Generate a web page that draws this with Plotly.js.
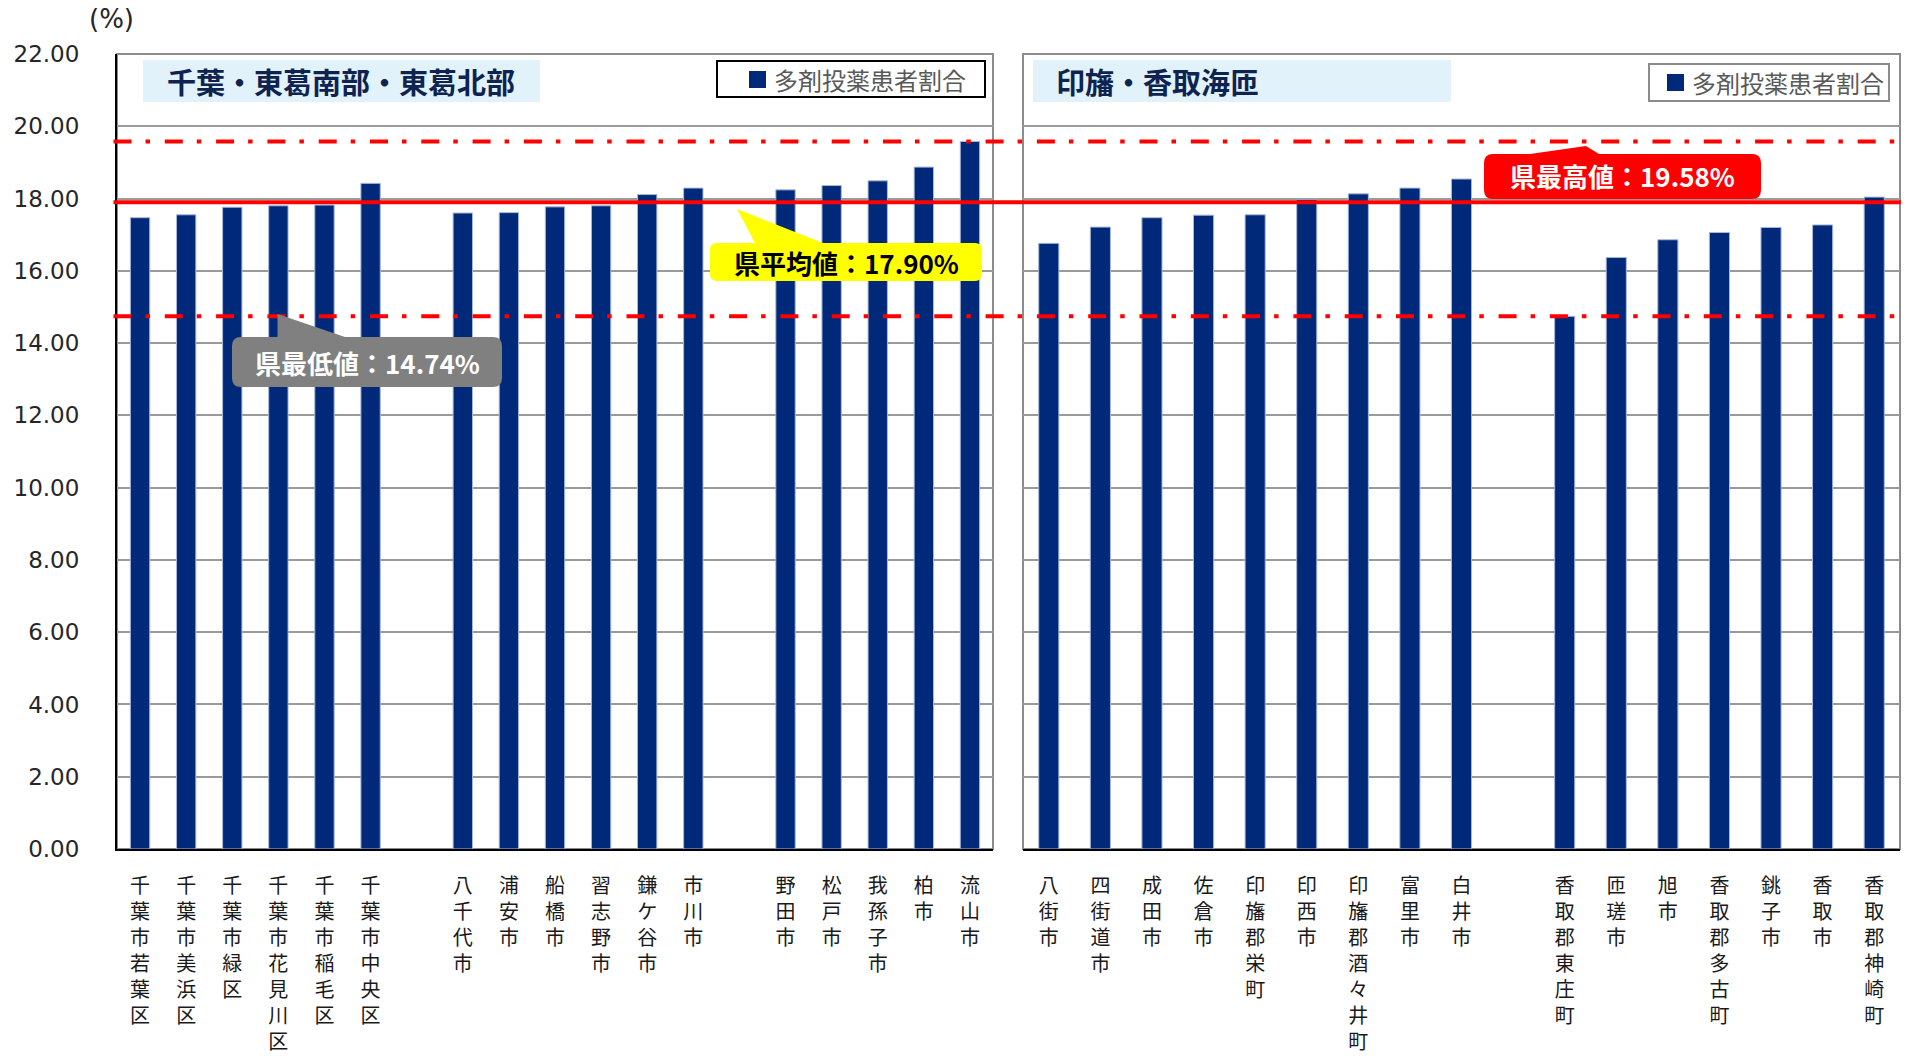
<!DOCTYPE html>
<html>
<head>
<meta charset="utf-8">
<script src="https://cdn.plot.ly/plotly-3.0.1.min.js"></script>
<style>html,body{margin:0;padding:0;background:#fff;}#chart{width:1908px;height:1056px;}</style>
</head>
<body>
<div id="chart"></div>
<script>
// ---------- data ----------
const chibaWards   = ['千葉市若葉区','千葉市美浜区','千葉市緑区','千葉市花見川区','千葉市稲毛区','千葉市中央区'];
const chibaValues  = [17.47, 17.55, 17.76, 17.80, 17.82, 18.42];
const katsuSouth   = ['八千代市','浦安市','船橋市','習志野市','鎌ケ谷市','市川市'];
const katsuSouthV  = [17.60, 17.61, 17.77, 17.80, 18.11, 18.29];
const katsuNorth   = ['野田市','松戸市','我孫子市','柏市','流山市'];
const katsuNorthV  = [18.24, 18.36, 18.49, 18.87, 19.58];
const inba         = ['八街市','四街道市','成田市','佐倉市','印旛郡栄町','印西市','印旛郡酒々井町','富里市','白井市'];
const inbaV        = [16.76, 17.21, 17.47, 17.54, 17.55, 17.98, 18.13, 18.29, 18.54];
const katoriKaisou = ['香取郡東庄町','匝瑳市','旭市','香取郡多古町','銚子市','香取市','香取郡神崎町'];
const katoriKaisouV= [14.74, 16.37, 16.86, 17.06, 17.20, 17.27, 18.04];

const prefAverage = 17.90;
const prefMax = 19.58;
const prefMin = 14.74;

const seriesName = '多剤投薬患者割合';
const panelTitle1 = '千葉・東葛南部・東葛北部';
const panelTitle2 = '印旛・香取海匝';
const avgLabel = '県平均値：17.90%';
const maxLabel = '県最高値：19.58%';
const minLabel = '県最低値：14.74%';
const yUnit = '(%)';
const yTicks = [0, 2, 4, 6, 8, 10, 12, 14, 16, 18, 20, 22];

// ---------- helpers ----------
const W = 1908, H = 1056;
const M = {l: 117, r: 8, t: 54, b: 207};
const PW = W - M.l - M.r, PH = H - M.t - M.b;
const px = x => (x - M.l) / PW;
const py = y => (H - M.b - y) / PH;

const vertical = s => s.split('').join('<br>');
function joinGroups(groups) {
  const x = [], y = [];
  groups.forEach((g, i) => {
    if (i > 0) { x.push(' '.repeat(i)); y.push(null); }
    g[0].forEach((c, j) => { x.push(c); y.push(g[1][j]); });
  });
  return {x, y};
}
const p1 = joinGroups([[chibaWards, chibaValues], [katsuSouth, katsuSouthV], [katsuNorth, katsuNorthV]]);
const p2 = joinGroups([[inba, inbaV], [katoriKaisou, katoriKaisouV]]);
const real1 = p1.x.filter(c => c.trim() !== '');
const real2 = p2.x.filter(c => c.trim() !== '');

const BAR = '#00297a';
const CJK = '"Noto Sans CJK JP", "Noto Sans", sans-serif';
const NUM = '"DejaVu Sans", sans-serif';

const traces = [
  {type: 'bar', x: p1.x, y: p1.y, xaxis: 'x', yaxis: 'y', name: seriesName, width: 0.42,
   marker: {color: BAR, line: {color: '#a9b8d8', width: 1}}, showlegend: false, hoverinfo: 'x+y'},
  {type: 'bar', x: p2.x, y: p2.y, xaxis: 'x2', yaxis: 'y', name: seriesName, width: 0.39,
   marker: {color: BAR, line: {color: '#a9b8d8', width: 1}}, showlegend: false, hoverinfo: 'x+y'}
];

function callout(x0, y0, x1, y1, r, b1, tip, b2) {
  const P = (x, y) => px(x).toFixed(5) + ',' + py(y).toFixed(5);
  return 'M' + P(x0 + r, y0) + ' L' + P(b1, y0) + ' L' + P(tip[0], tip[1]) + ' L' + P(b2, y0) +
    ' L' + P(x1 - r, y0) + ' Q' + P(x1, y0) + ' ' + P(x1, y0 + r) +
    ' L' + P(x1, y1 - r) + ' Q' + P(x1, y1) + ' ' + P(x1 - r, y1) +
    ' L' + P(x0 + r, y1) + ' Q' + P(x0, y1) + ' ' + P(x0, y1 - r) +
    ' L' + P(x0, y0 + r) + ' Q' + P(x0, y0) + ' ' + P(x0 + r, y0) + ' Z';
}
const prect = (x0, y0, x1, y1, fill, line) => ({type: 'rect', xref: 'paper', yref: 'paper',
  x0: px(x0), x1: px(x1), y0: py(y1), y1: py(y0), fillcolor: fill, line: line || {width: 0}});

const dashDot = '18px,14px,4.5px,14.8px';
const lineX0 = px(113.5), lineX1 = px(1901);

const shapes = [
  // panel borders
  {type: 'rect', xref: 'x domain', yref: 'y domain', x0: 0, x1: 1, y0: 0, y1: 1, line: {color: '#8c8c8c', width: 2}, layer: 'below'},
  {type: 'rect', xref: 'x2 domain', yref: 'y domain', x0: 0, x1: 1, y0: 0, y1: 1, line: {color: '#8c8c8c', width: 2}, layer: 'below'},
  // panel title boxes
  prect(143, 60, 540, 102, '#e1f2fa'),
  prect(1033, 60, 1451, 102, '#e1f2fa'),
  // legend boxes and swatches
  prect(717, 61, 985, 97, '#ffffff', {color: '#000000', width: 2}),
  prect(749, 71, 766, 88, BAR),
  prect(1649, 64, 1889, 101, '#ffffff', {color: '#8c8c8c', width: 2}),
  prect(1667, 74, 1684, 91, BAR),
  // reference lines
  {type: 'line', xref: 'paper', yref: 'y', x0: lineX0, x1: lineX1, y0: prefMax, y1: prefMax, line: {color: '#ff0000', width: 4, dash: dashDot}},
  {type: 'line', xref: 'paper', yref: 'y', x0: lineX0, x1: lineX1, y0: prefMin, y1: prefMin, line: {color: '#ff0000', width: 4, dash: dashDot}},
  {type: 'line', xref: 'paper', yref: 'y', x0: lineX0, x1: lineX1, y0: prefAverage, y1: prefAverage, line: {color: '#ff0000', width: 4}},
  // callouts
  {type: 'path', xref: 'paper', yref: 'paper', path: callout(232, 337, 502, 387, 9, 277.5, [277.5, 314], 345), fillcolor: '#808080', line: {width: 0}},
  {type: 'path', xref: 'paper', yref: 'paper', path: callout(710, 243, 982, 281, 7, 755, [737, 209], 823), fillcolor: '#ffff00', line: {width: 0}},
  {type: 'path', xref: 'paper', yref: 'paper', path: callout(1484, 154, 1761, 199, 9, 1530, [1586, 146], 1599), fillcolor: '#ff0000', line: {width: 0}}
];

const ann = (x, y, text, size, color, family, xanchor) => ({xref: 'paper', yref: 'paper', x: px(x), y: py(y), text: text,
  showarrow: false, xanchor: xanchor || 'center', yanchor: 'middle', font: {family: family || CJK, size: size, color: color}});

const annotations = [
  ann(111, 19, yUnit, 26, '#262626', NUM),
  ann(165, 81, '<b>' + panelTitle1 + '</b>', 29, '#0f2350', CJK, 'left'),
  ann(1054, 81, '<b>' + panelTitle2 + '</b>', 29, '#0f2350', CJK, 'left'),
  ann(772, 79, seriesName, 24, '#595959', CJK, 'left'),
  ann(1690, 82.5, seriesName, 24, '#595959', CJK, 'left'),
  ann(367, 362, '<b>' + minLabel + '</b>', 26, '#ffffff'),
  ann(846, 262, '<b>' + avgLabel + '</b>', 26, '#000000'),
  ann(1622, 176, '<b>' + maxLabel + '</b>', 26, '#ffffff')
];

const xCommon = {
  type: 'category', showgrid: false, zeroline: false, showline: true, linecolor: '#000', linewidth: 2,
  ticks: '', tickangle: 0, tickmode: 'array', ticklabelstandoff: 18,
  tickfont: {family: CJK, size: 20, color: '#1a1a1a'}, fixedrange: true
};

const layout = {
  width: W, height: H, margin: M,
  paper_bgcolor: '#fff', plot_bgcolor: 'rgba(0,0,0,0)',
  showlegend: false, bargap: 0.6,
  font: {family: CJK},
  xaxis: Object.assign({}, xCommon, {domain: [0, px(993)], anchor: 'y',
    categoryorder: 'array', categoryarray: p1.x, range: [-0.5, p1.x.length - 0.5],
    tickvals: real1, ticktext: real1.map(vertical)}),
  xaxis2: Object.assign({}, xCommon, {domain: [px(1023), 1], anchor: 'y',
    categoryorder: 'array', categoryarray: p2.x, range: [-0.5, p2.x.length - 0.5],
    tickvals: real2, ticktext: real2.map(vertical)}),
  yaxis: {range: [0, 22], tickmode: 'array', tickvals: yTicks, tickformat: '.2f',
    showgrid: true, gridcolor: '#9a9a9a', gridwidth: 2, zeroline: false,
    showline: true, linecolor: '#000', linewidth: 2, ticks: '', ticklabelstandoff: 31,
    tickfont: {family: NUM, size: 23, color: '#262626'}, fixedrange: true},
  shapes: shapes,
  annotations: annotations
};

Plotly.newPlot('chart', traces, layout, {displayModeBar: false, staticPlot: true});
</script>
</body>
</html>
